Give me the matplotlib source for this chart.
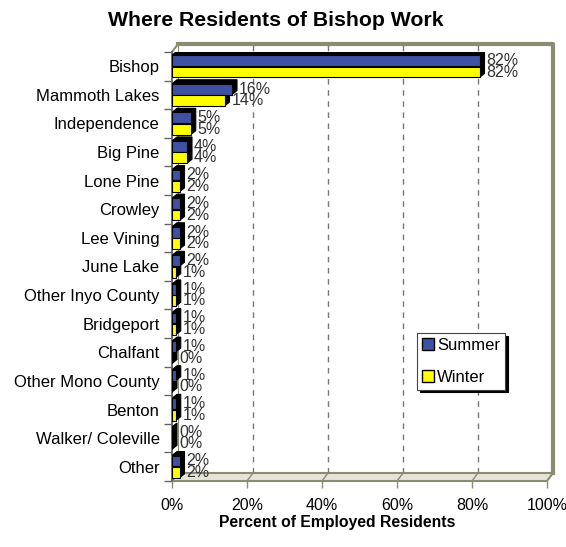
import matplotlib
matplotlib.use("Agg")
import matplotlib.pyplot as plt
from matplotlib.patches import Polygon, Rectangle, Patch
import numpy as np

plt.rcParams['font.family'] = ['Liberation Sans', 'DejaVu Sans']

categories = ["Bishop", "Mammoth Lakes", "Independence", "Big Pine", "Lone Pine",
              "Crowley", "Lee Vining", "June Lake", "Other Inyo County", "Bridgeport",
              "Chalfant", "Other Mono County", "Benton", "Walker/ Coleville", "Other"]
summer = [82, 16, 5, 4, 2, 2, 2, 2, 1, 1, 1, 1, 1, 0, 2]
winter = [82, 14, 5, 4, 2, 2, 2, 1, 1, 1, 0, 0, 1, 0, 2]
xticks = [0, 20, 40, 60, 80, 100]
xtick_labels = ["0%", "20%", "40%", "60%", "80%", "100%"]

c_summer = "#3F51A3"
c_winter = "#FFFF00"
olive = "#8C8C72"

W, H = 566, 547
fig = plt.figure(figsize=(W / 100, H / 100), dpi=100)
L, R, T, B = 172, 547, 52, 481
ax = fig.add_axes([L / W, 1 - B / H, (R - L) / W, (B - T) / H])
n = len(categories)
ax.set_xlim(0, 100)
ax.set_ylim(n - 0.5, -0.5)

px_x = 100 / (R - L)
px_y = n / (B - T)

# walls / floor
wdx, wdy = 6 * px_x, 8 * px_y
ybot, ytop = n - 0.5, -0.5
floor = Polygon([(0, ybot), (100, ybot), (100 + wdx, ybot - wdy), (0 + wdx, ybot - wdy)],
                closed=True, facecolor="#E4E4D8", edgecolor=olive, lw=1.5,
                clip_on=False, zorder=1)
ax.add_patch(floor)
ax.plot([wdx, 100 + wdx, 100 + wdx], [ytop - wdy, ytop - wdy, ybot - wdy],
        color=olive, lw=3, clip_on=False, zorder=1, solid_capstyle='projecting')
ax.plot([0, wdx], [ytop, ytop - wdy], color=olive, lw=1.5, clip_on=False, zorder=1)
ax.plot([0, 0], [ytop, ybot], color="#555555", lw=1.2, clip_on=False, zorder=1)
ax.plot([wdx, wdx], [ytop - wdy, ybot - wdy], color=olive, lw=0.8, clip_on=False, zorder=1)

for g in xticks[1:-1]:
    ax.plot([g + wdx, g + wdx], [ybot - wdy, ytop - wdy], color="#777777", lw=1,
            dashes=(4, 4), clip_on=False, zorder=2)
    ax.plot([g, g + wdx], [ybot, ybot - wdy], color=olive, lw=1, clip_on=False, zorder=2)

bh = 0.38
off = 0.2
bdx, bdy = 5 * px_x, 4 * px_y

def draw_bar(yc, v, color):
    y0, y1 = yc - bh / 2, yc + bh / 2
    hexa = [(0, y1), (0, y0), (bdx, y0 - bdy), (v + bdx, y0 - bdy),
            (v + bdx, y1 - bdy), (v, y1)]
    ax.add_patch(Polygon(hexa, closed=True, facecolor="black", edgecolor="black",
                         lw=0.8, zorder=3))
    ax.add_patch(Rectangle((0, y0), v, bh, facecolor=color, edgecolor="black",
                           lw=0.8, zorder=4))
    ax.annotate(f"{v}%", xy=(v, yc), xytext=(7, 0), textcoords="offset pixels",
                ha="left", va="center", fontsize=11.5, color="#333333", zorder=5)

for i in range(n):
    draw_bar(i - off, summer[i], c_summer)
    draw_bar(i + off, winter[i], c_winter)

for s in ax.spines.values():
    s.set_visible(False)

ax.set_yticks(np.arange(n))
ax.set_yticklabels(categories, fontsize=12)
ax.set_yticks(np.arange(n + 1) - 0.5, minor=True)
ax.tick_params(axis="y", which="major", length=0, pad=9)
ax.tick_params(axis="y", which="minor", length=6, color="#666666", width=1)

ax.set_xticks(xticks)
ax.set_xticklabels(xtick_labels, fontsize=11.5)
ax.tick_params(axis="x", length=5, color=olive, width=1, pad=7)

fig.text(337 / W, 1 - 523 / H, "Percent of Employed Residents", ha="center", va="center",
         fontsize=11.3, fontweight="bold")
fig.text(276 / W, 1 - 20 / H, "Where Residents of Bishop Work", ha="center", va="center",
         fontsize=15.3, fontweight="bold")

handles = [Patch(facecolor=c_summer, edgecolor="black", label="Summer"),
           Patch(facecolor=c_winter, edgecolor="black", label="Winter")]
leg = ax.legend(handles=handles, loc="upper left", bbox_to_anchor=(417 / W, 1 - 333 / H),
                bbox_transform=fig.transFigure, borderaxespad=0, fancybox=False,
                shadow={"color": "black", "alpha": 1}, fontsize=12,
                handlelength=0.7, handleheight=0.7, handletextpad=0.2,
                labelspacing=1.0, borderpad=0.3, framealpha=1)
leg.get_frame().set_edgecolor("#444444")
leg.get_frame().set_linewidth(0.8)
leg.set_zorder(10)

fig.savefig("out.png", dpi=100)
